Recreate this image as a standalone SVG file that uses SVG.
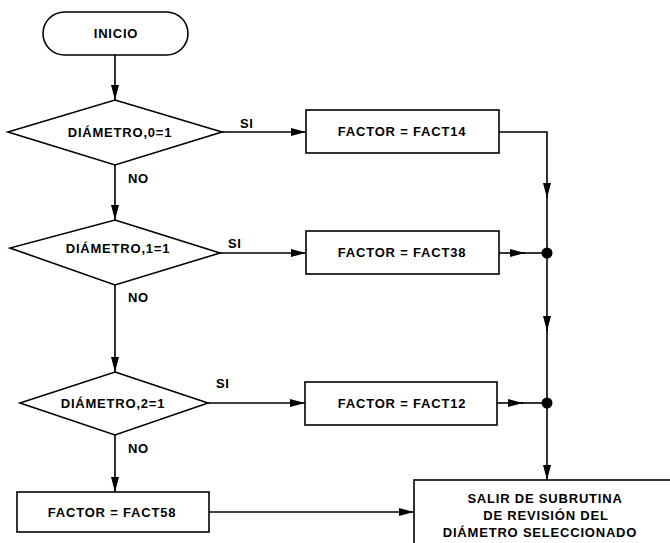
<svg xmlns="http://www.w3.org/2000/svg" width="670" height="543" viewBox="0 0 670 543">
<defs>
<marker id="ah" markerUnits="userSpaceOnUse" markerWidth="15" markerHeight="8" refX="15" refY="4" orient="auto">
<path d="M0,0 L15,4 L0,8 Z" fill="#000"/>
</marker>
<style>
.s{fill:#fff;stroke:#000;stroke-width:1.6}
.c{fill:none;stroke:#000;stroke-width:1.6}
.t{font-family:"Liberation Sans",Arial,sans-serif;font-weight:bold;font-size:13px;letter-spacing:0.8px;fill:#000;text-anchor:middle}
.l{font-family:"Liberation Sans",Arial,sans-serif;font-weight:bold;font-size:13px;letter-spacing:0.5px;fill:#000}
</style>
</defs>
<rect width="670" height="543" fill="#fff"/>
<g id="connectors">
<path class="c" d="M115,55 V100" marker-end="url(#ah)"/>
<path class="c" d="M115,165 V220" marker-end="url(#ah)"/>
<path class="c" d="M115,285 V372" marker-end="url(#ah)"/>
<path class="c" d="M115,435 V492" marker-end="url(#ah)"/>
<path class="c" d="M222,132 H306" marker-end="url(#ah)"/>
<path class="c" d="M220,253 H306" marker-end="url(#ah)"/>
<path class="c" d="M208,403 H305" marker-end="url(#ah)"/>
<path class="c" d="M499,132 H547 V198" marker-end="url(#ah)"/>
<path class="c" d="M547,196 V253"/>
<path class="c" d="M499,253 H525" marker-end="url(#ah)"/>
<path class="c" d="M523,253 H547"/>
<path class="c" d="M547,253 V331" marker-end="url(#ah)"/>
<path class="c" d="M547,329 V403"/>
<path class="c" d="M497,403 H523" marker-end="url(#ah)"/>
<path class="c" d="M521,403 H547"/>
<path class="c" d="M547,403 V480" marker-end="url(#ah)"/>
<path class="c" d="M209,512 H414" marker-end="url(#ah)"/>
<circle cx="547" cy="253" r="5.5" fill="#000"/>
<circle cx="547" cy="403" r="5.5" fill="#000"/>
<text class="l" x="240" y="127.5">SI</text>
<text class="l" x="228" y="247.5">SI</text>
<text class="l" x="216" y="387.5">SI</text>
<text class="l" x="128" y="182.5">NO</text>
<text class="l" x="128" y="301.5">NO</text>
<text class="l" x="128" y="452.5">NO</text>
</g>
<g id="inicio">
<rect class="s" x="43" y="12" width="145" height="43" rx="21.5"/>
<text class="t" x="116" y="38">INICIO</text>
</g>
<g id="d0">
<polygon class="s" points="115,100 222,132 115,165 8,132"/>
<text class="t" x="120" y="136.7">DIÁMETRO,0=1</text>
</g>
<g id="d1">
<polygon class="s" points="115,220 220,253 115,285 10,248"/>
<text class="t" x="118" y="252.7">DIÁMETRO,1=1</text>
</g>
<g id="d2">
<polygon class="s" points="115,372 208,403 115,435 20,403"/>
<text class="t" x="113" y="407.7">DIÁMETRO,2=1</text>
</g>
<g id="f14">
<rect class="s" x="306" y="110" width="193" height="43"/>
<text class="t" x="402" y="136.2">FACTOR = FACT14</text>
</g>
<g id="f38">
<rect class="s" x="306" y="231" width="193" height="43"/>
<text class="t" x="402" y="257.2">FACTOR = FACT38</text>
</g>
<g id="f12">
<rect class="s" x="305" y="382" width="192" height="43"/>
<text class="t" x="402" y="408.2">FACTOR = FACT12</text>
</g>
<g id="f58">
<rect class="s" x="17" y="492" width="192" height="40"/>
<text class="t" x="112" y="516.7">FACTOR = FACT58</text>
</g>
<g id="salir">
<rect class="s" x="414" y="480" width="260" height="80"/>
<text class="t" x="545" y="502.5">SALIR DE SUBRUTINA</text>
<text class="t" x="546" y="519.5">DE REVISIÓN DEL</text>
<text class="t" x="540" y="536.5">DIÁMETRO SELECCIONADO</text>
</g>
</svg>
